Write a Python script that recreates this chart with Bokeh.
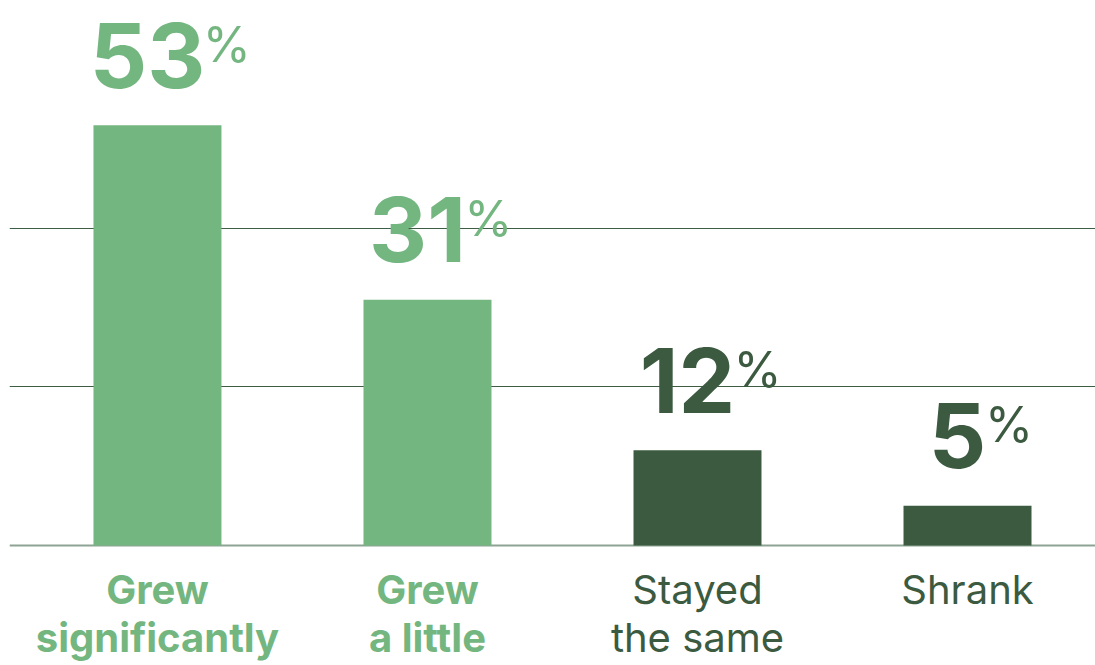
from bokeh.plotting import figure
from bokeh.models import FixedTicker, Grid, Range1d
from bokeh.core.properties import value
from bokeh.embed import file_html
from bokeh.resources import INLINE

# ---- data ----
categories = ["Grew\nsignificantly", "Grew\na little", "Stayed\nthe same", "Shrank"]
percent = [53, 31, 12, 5]
bar_colors = ["#74b680", "#74b680", "#3b5a40", "#3b5a40"]
label_styles = ["bold", "bold", "normal", "normal"]
grid_values = [20, 40]

x = list(range(len(categories)))
line1 = [c.split("\n")[0] for c in categories]
line2 = [c.split("\n")[1] if "\n" in c else "" for c in categories]
num_text = [str(v) for v in percent]

FONT = "Inter"
NUM_SIZE = 90
PCT_SIZE = 49
LAB_SIZE = 40
# approximate advance widths (em) of bold digits, used to put "%" right after the number
DIGIT_EM = {"0": 0.64, "1": 0.42, "2": 0.60, "3": 0.62, "4": 0.64,
            "5": 0.61, "6": 0.62, "7": 0.58, "8": 0.63, "9": 0.62}
num_shift = -10
pct_shift = [num_shift + sum(DIGIT_EM[c] for c in s) * NUM_SIZE / 2 + 0 for s in num_text]

p = figure(width=1095, height=665, output_backend="svg", toolbar_location=None,
           x_range=Range1d(-0.548, 3.474), y_range=Range1d(-15.13, 68.73),
           min_border_left=9, min_border_right=0, min_border_top=0, min_border_bottom=0)
p.axis.visible = False
p.outline_line_color = None
p.xgrid.visible = False
p.ygrid.ticker = FixedTicker(ticks=grid_values)
p.ygrid.grid_line_color = "#3d5e45"
p.ygrid.grid_line_width = 1.2
base = Grid(dimension=1, ticker=FixedTicker(ticks=[0]), grid_line_color="#8da494",
            grid_line_width=2)
p.add_layout(base)
p.background_fill_color = "white"
p.border_fill_color = "white"

p.vbar(x=x, top=percent, bottom=0, width=0.474, fill_color=bar_colors, line_color=None)

# value labels
p.text(x=x, y=percent, text=num_text, text_color=bar_colors, text_align="center",
       text_baseline="alphabetic", x_offset=num_shift, y_offset=-70,
       text_font=value(FONT), text_font_style="bold", text_font_size=f"{NUM_SIZE}px")
p.text(x=x, y=percent, text=["%"] * len(x), text_color=bar_colors, text_align="left",
       text_baseline="alphabetic", x_offset=pct_shift, y_offset=-81,
       text_font=value(FONT), text_font_style="normal", text_font_size=f"{PCT_SIZE}px")

# category labels
for i in range(len(x)):
    for txt, off in ((line1[i], 44), (line2[i], 92)):
        if txt:
            p.text(x=[x[i]], y=[0], text=[txt], text_color=bar_colors[i], text_align="center",
                   text_baseline="alphabetic", y_offset=off,
                   text_font=value(FONT), text_font_style=label_styles[i],
                   text_font_size=f"{LAB_SIZE}px")

open("out.html", "w").write(file_html(p, INLINE))
